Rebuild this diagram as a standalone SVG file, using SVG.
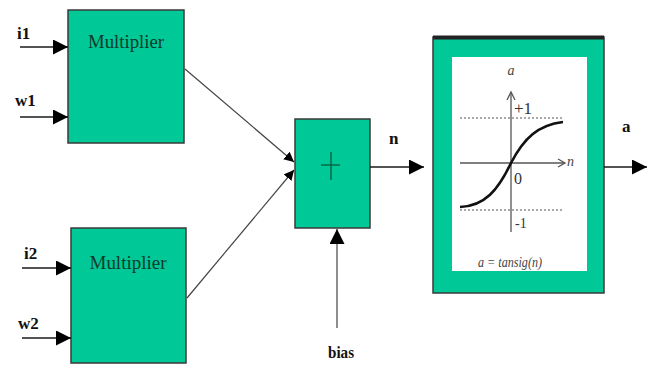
<svg xmlns="http://www.w3.org/2000/svg" width="654" height="365" viewBox="0 0 654 365">
  <style>
    .blk { fill: #00c896; stroke: #3a3a3a; stroke-width: 1.5; }
    .wire { fill: none; stroke: #1a1a1a; stroke-width: 1.6; }
    .thin { fill: none; stroke: #444; stroke-width: 1.2; }
    .lbl { font-family: "Liberation Serif", serif; font-weight: bold; font-size: 17px; fill: #111; }
    .blkt { font-family: "Liberation Serif", serif; font-size: 19px; fill: #0b3b2c; }
    .gtxt { font-family: "Liberation Serif", serif; font-style: italic; font-size: 14px; fill: #444; }
    .axis { fill: none; stroke: #555; stroke-width: 1.3; }
    .dots { fill: none; stroke: #555; stroke-width: 1; stroke-dasharray: 2 2; }
  </style>
  <defs>
    <marker id="arr" viewBox="0 0 10 10" refX="10" refY="5" markerWidth="10" markerHeight="10" markerUnits="userSpaceOnUse" orient="auto">
      <path d="M0,0 L10,5 L0,10 Z" fill="#000"/>
    </marker>
    <marker id="arrBig" viewBox="0 0 10 10" refX="10" refY="5" markerWidth="15" markerHeight="15" markerUnits="userSpaceOnUse" orient="auto">
      <path d="M0,0 L10,5 L0,10 Z" fill="#000"/>
    </marker>
  </defs>

  <!-- first multiplier -->
  <g id="mult1">
    <rect class="blk" x="68" y="10" width="116" height="133"/>
    <text class="blkt" x="126" y="48" text-anchor="middle" textLength="76" lengthAdjust="spacingAndGlyphs">Multiplier</text>
  </g>

  <!-- second multiplier -->
  <g id="mult2">
    <rect class="blk" x="71" y="228" width="115" height="135"/>
    <text class="blkt" x="128" y="269" text-anchor="middle" textLength="77" lengthAdjust="spacingAndGlyphs">Multiplier</text>
  </g>

  <!-- summing junction -->
  <g id="sum">
    <rect class="blk" x="295" y="119" width="75" height="109"/>
    <line x1="321" y1="165" x2="340" y2="165" stroke="#0b5a3c" stroke-width="1.3"/>
    <line x1="331" y1="152" x2="331" y2="180" stroke="#0b5a3c" stroke-width="1.3"/>
  </g>

  <!-- tansig transfer function -->
  <g id="tansig">
    <rect x="433" y="37" width="171" height="256" fill="#00c896" stroke="#3a3a3a" stroke-width="1.5"/>
    <line x1="433" y1="37.5" x2="604" y2="37.5" stroke="#222" stroke-width="4"/>
    <rect x="452" y="57" width="135" height="214" fill="#fff"/>
    <line class="dots" x1="460" y1="118" x2="564" y2="118"/>
    <line class="dots" x1="460" y1="210" x2="564" y2="210"/>
    <line class="axis" x1="511" y1="232" x2="511" y2="92"/>
    <path class="axis" d="M507,100 L511,92 L515,100"/>
    <line class="axis" x1="460" y1="163" x2="565" y2="163"/>
    <path class="axis" d="M558,159 L565,163 L558,167"/>
    <path d="M460,207 C485,206 498,190 511,163 C524,138 538,125 563,122" fill="none" stroke="#111" stroke-width="2.6"/>
    <text class="gtxt" x="511" y="75" text-anchor="middle">a</text>
    <text x="514" y="114" font-family="Liberation Serif, serif" font-size="17" fill="#333">+1</text>
    <text x="514" y="184" font-family="Liberation Serif, serif" font-size="16" fill="#333">0</text>
    <text x="515" y="228" font-family="Liberation Serif, serif" font-size="14" fill="#333">-1</text>
    <text class="gtxt" x="567" y="166">n</text>
    <text class="gtxt" x="510" y="267" text-anchor="middle" font-size="17" textLength="64" lengthAdjust="spacingAndGlyphs">a = tansig(n)</text>
  </g>

  <!-- signal wires -->
  <g id="connectors">
    <line class="wire" x1="20" y1="47" x2="68" y2="47" marker-end="url(#arrBig)"/>
    <line class="wire" x1="20" y1="117" x2="68" y2="117" marker-end="url(#arrBig)"/>
    <line class="wire" x1="22" y1="268" x2="71" y2="268" marker-end="url(#arrBig)"/>
    <line class="wire" x1="22" y1="338" x2="71" y2="338" marker-end="url(#arrBig)"/>
    <line class="thin" x1="185" y1="69" x2="294" y2="162" marker-end="url(#arr)"/>
    <line class="thin" x1="187" y1="298" x2="294" y2="170" marker-end="url(#arr)"/>
    <line class="wire" x1="370" y1="167" x2="424" y2="167" marker-end="url(#arrBig)"/>
    <line class="thin" x1="337" y1="328" x2="337" y2="229" marker-end="url(#arrBig)"/>
    <line class="wire" x1="604" y1="167" x2="647" y2="167" marker-end="url(#arrBig)"/>
  </g>

  <!-- signal names -->
  <g id="labels">
    <text class="lbl" x="17" y="39">i1</text>
    <text class="lbl" x="15" y="106">w1</text>
    <text class="lbl" x="24" y="259">i2</text>
    <text class="lbl" x="18" y="329">w2</text>
    <text class="lbl" x="389" y="144">n</text>
    <text class="lbl" x="341" y="358" text-anchor="middle" textLength="26" lengthAdjust="spacingAndGlyphs">bias</text>
    <text class="lbl" x="622" y="132">a</text>
  </g>
</svg>
